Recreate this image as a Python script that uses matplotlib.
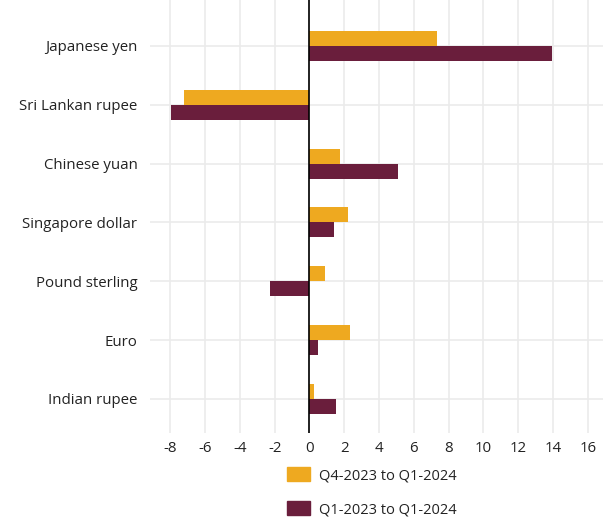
import numpy as np
import matplotlib.pyplot as plt
from matplotlib.patches import Patch

plt.rcParams['font.family'] = ['Open Sans', 'DejaVu Sans']

# data, top to bottom
currencies = ['Japanese yen', 'Sri Lankan rupee', 'Chinese yuan', 'Singapore dollar',
              'Pound sterling', 'Euro', 'Indian rupee']
q4_to_q1 = [7.33, -7.22, 1.75, 2.21, 0.89, 2.33, 0.26]
yoy_q1 = [13.95, -7.96, 5.09, 1.40, -2.27, 0.49, 1.52]
series_labels = ['Q4-2023 to Q1-2024', 'Q1-2023 to Q1-2024']
xticks = [-8, -6, -4, -2, 0, 2, 4, 6, 8, 10, 12, 14, 16]

gold = '#EEA920'
maroon = '#6A1E3C'

fig = plt.figure(figsize=(6.03, 5.21), dpi=100)
ax = fig.add_axes([150 / 603, 88 / 521, 453 / 603, 433 / 521])

y = np.arange(len(currencies))[::-1]
h = 0.255
ax.barh(y + h / 2, q4_to_q1, height=h, color=gold, zorder=3)
ax.barh(y - h / 2, yoy_q1, height=h, color=maroon, zorder=3)
ax.axvline(0, color='black', lw=1.2, zorder=4)

ax.set_xlim(-9.17, 16.88)
ax.set_ylim(-0.58, 6.78)
ax.set_yticks(y)
ax.set_yticklabels(currencies)
ax.set_xticks(xticks)
ax.set_xticklabels([str(t) for t in xticks])
ax.grid(True, color='#ebebeb', lw=1.2, zorder=0)
ax.tick_params(length=0, labelsize=10.8, colors='#222222')
ax.tick_params(axis='y', pad=9)
ax.tick_params(axis='x', pad=6)
for s in ax.spines.values():
    s.set_visible(False)

handles = [Patch(color=gold), Patch(color=maroon)]
fig.legend(handles, series_labels, loc='upper left', bbox_to_anchor=(274 / 603, 1 - 454 / 521),
           frameon=False, fontsize=10.5, handlelength=1.6, handleheight=1.1,
           labelspacing=1.25, handletextpad=0.6, labelcolor='#222222')

fig.savefig('out.png', dpi=100)
